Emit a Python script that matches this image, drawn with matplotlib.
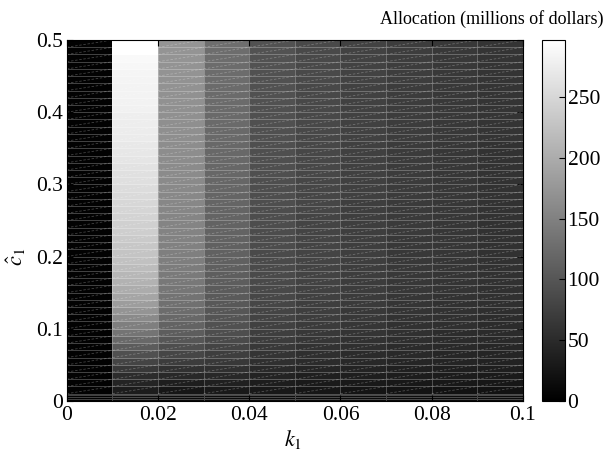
import numpy as np
import matplotlib
matplotlib.use("Agg")
import matplotlib.pyplot as plt
from matplotlib.collections import LineCollection

plt.rcParams['font.family'] = ['Liberation Serif', 'DejaVu Serif']
plt.rcParams['mathtext.fontset'] = 'stix'

# grid edges: k1 in steps of 0.01, c1 with a finer band near zero
k_edges = [0.0, 0.01, 0.02, 0.03, 0.04, 0.05, 0.06, 0.07, 0.08, 0.09, 0.1]
c_edges = [0.0, 0.0025, 0.005, 0.0075] + [round(0.01 * i, 2) for i in range(1, 51)]

# allocation (millions of dollars) in each k1 column, from c1 = 0 upward
alloc_k00 = [1, 1, 2, 2] + [3] * 49
alloc_k01 = [12, 14, 16, 19,
             33, 42, 52, 65, 79, 93, 107, 121, 135, 148,
             161, 172, 183, 192, 200, 207, 213, 219, 224, 228,
             232, 235, 239, 242, 245, 248, 250, 254, 256, 259,
             261, 263, 266, 268, 270, 273, 274, 276, 277, 280,
             281, 282, 283, 284, 285, 287, 289, 297, 297]
alloc_k02 = [12, 13, 14, 16,
             26, 35, 47, 58, 70, 82, 91, 100, 108, 115,
             121, 126, 130, 134, 137, 140, 142, 144, 147, 148,
             150, 151, 153, 154, 155, 156, 157, 158, 160, 161,
             162, 162, 163, 164, 164, 165, 167, 167, 168, 168,
             169, 169, 170, 170, 171, 171, 172, 172, 174]
alloc_k03 = [11, 12, 13, 15,
             30, 38, 47, 56, 66, 73, 80, 86, 91, 94,
             98, 100, 103, 105, 106, 108, 110, 111, 112, 113,
             113, 114, 115, 115, 117, 117, 118, 118, 119, 119,
             120, 120, 121, 121, 121, 122, 122, 123, 123, 123,
             125, 125, 125, 126, 126, 126, 127, 127, 128]
alloc_k04 = [12, 13, 14, 16,
             28, 34, 41, 48, 55, 61, 65, 70, 73, 76,
             78, 80, 82, 83, 84, 85, 86, 86, 87, 87,
             89, 89, 89, 90, 90, 90, 91, 91, 91, 91,
             92, 92, 92, 92, 92, 93, 93, 93, 93, 93,
             94, 94, 94, 94, 94, 96, 96, 96, 96]
alloc_k05 = [12, 13, 14, 16,
             26, 31, 37, 43, 50, 55, 59, 63, 66, 69,
             71, 72, 73, 75, 76, 77, 78, 78, 79, 79,
             79, 80, 80, 80, 80, 82, 82, 82, 82, 82,
             83, 83, 83, 83, 83, 83, 84, 84, 84, 84,
             84, 84, 84, 85, 85, 85, 85, 85, 85]
alloc_k06 = [12, 13, 14, 16,
             24, 30, 35, 41, 47, 51, 55, 58, 61, 63,
             65, 66, 68, 69, 70, 70, 71, 71, 72, 72,
             72, 72, 73, 73, 73, 73, 73] + [75] * 8 + [76] * 8 + [77] * 6
alloc_k07 = [12, 13, 14, 16,
             23, 29, 34, 38, 44, 48, 51, 54, 56, 58,
             59, 61, 62, 63, 64, 64, 65, 65, 66, 66,
             66, 66, 68, 68, 68, 68, 68] + [69] * 8 + [70] * 8 + [71] * 6
alloc_k08 = [12, 13, 14, 16,
             22, 28, 33, 37, 42, 45, 48, 50, 52, 55,
             56, 57, 58, 59, 61, 61, 62, 62, 62, 63,
             63, 63, 63, 63, 64, 64, 64] + [64] * 8 + [65] * 8 + [66] * 6
alloc_k09 = [12, 13, 14, 16,
             21, 27, 31, 35, 40, 43, 45, 48, 50, 51,
             52, 54, 55, 56, 56, 57, 57, 57, 58, 58,
             58, 58, 58, 58, 59, 59, 59] + [59] * 8 + [61] * 14

columns = [alloc_k00, alloc_k01, alloc_k02, alloc_k03, alloc_k04,
           alloc_k05, alloc_k06, alloc_k07, alloc_k08, alloc_k09]
Z = np.array(columns, dtype=float).T

fig = plt.figure(figsize=(6.08, 4.55), dpi=100)
ax = fig.add_axes([0.110, 0.119, 0.750, 0.793])
cax = fig.add_axes([0.891, 0.119, 0.038, 0.793])

mesh = ax.pcolormesh(k_edges, c_edges, Z, cmap='gray', vmin=0, vmax=297,
                     edgecolors=(1, 1, 1, 0.25), linewidth=0.5, shading='flat')

# faint diagonals across every facet
segs = []
for i in range(len(k_edges) - 1):
    for j in range(4, len(c_edges) - 1):
        segs.append([(k_edges[i], c_edges[j]), (k_edges[i + 1], c_edges[j + 1])])
ax.add_collection(LineCollection(segs, colors=[(1, 1, 1, 0.25)], linewidths=0.6,
                                 linestyles=[(0, (3, 2))]))

ax.set_xlim(0, 0.1)
ax.set_ylim(0, 0.5)
ax.set_xticks([0, 0.02, 0.04, 0.06, 0.08, 0.1])
ax.set_xticklabels(['0', '0.02', '0.04', '0.06', '0.08', '0.1'])
ax.set_yticks([0, 0.1, 0.2, 0.3, 0.4, 0.5])
ax.set_yticklabels(['0', '0.1', '0.2', '0.3', '0.4', '0.5'])
ax.tick_params(direction='in', top=True, right=True, length=4, labelsize=15.5)
ax.tick_params(axis='x', pad=4)
ax.tick_params(axis='y', pad=3)
ax.set_xlabel(r'$k_1$', fontsize=16)
ax.set_ylabel(r'$\hat{c}_1$', fontsize=16)
ax.xaxis.set_label_coords(0.495, -0.075)
ax.yaxis.set_label_coords(-0.085, 0.40)

cb = fig.colorbar(mesh, cax=cax)
cb.set_ticks([0, 50, 100, 150, 200, 250])
cb.outline.set_linewidth(0.8)
cax.tick_params(direction='in', length=4, labelsize=15.5, pad=2)
fig.text(0.992, 0.958, 'Allocation (millions of dollars)', ha='right', va='center',
         fontsize=13)

fig.savefig('out.png', dpi=100)
